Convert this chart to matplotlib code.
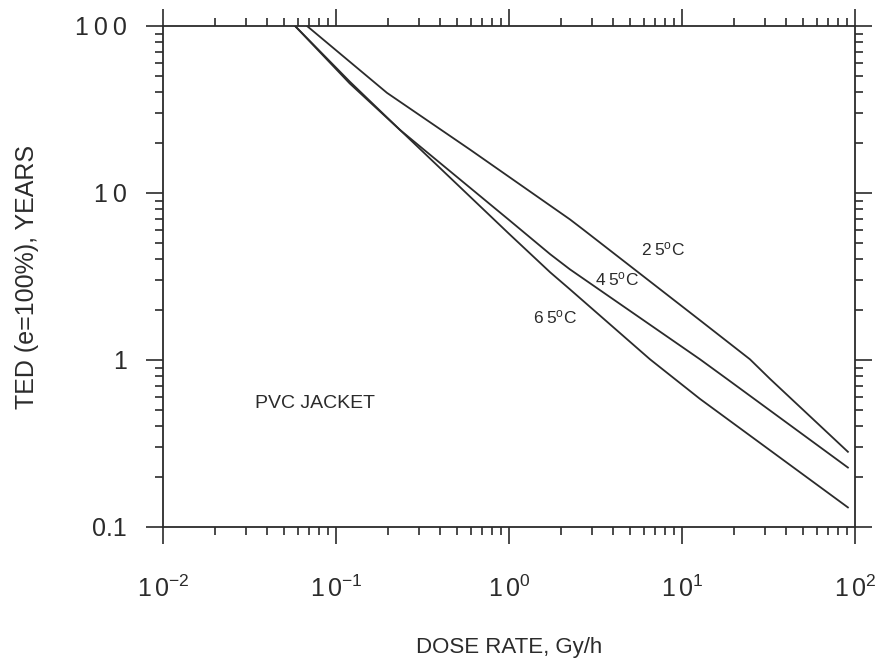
import matplotlib.pyplot as plt
from matplotlib.ticker import FixedLocator, FixedFormatter

plt.rcParams['font.family'] = ['Liberation Sans', 'DejaVu Sans']
plt.rcParams['mathtext.fontset'] = 'custom'
plt.rcParams['mathtext.rm'] = 'Liberation Sans'
plt.rcParams['mathtext.it'] = 'Liberation Sans'

# curve data (dose rate Gy/h, TED years)
dose_25 = [0.068, 0.197, 0.595, 2.25, 2.68, 12.7, 24.7, 32.3, 91.0]
ted_25 = [100, 39.8, 18.2, 6.95, 6.05, 1.73, 1.01, 0.77, 0.282]

dose_45 = [0.058, 0.12, 0.234, 1.0, 1.73, 2.25, 12.7, 18.2, 91.0]
ted_45 = [100, 46.5, 23.9, 6.9, 4.30, 3.49, 1.01, 0.77, 0.227]

dose_65 = [0.058, 0.12, 0.234, 1.0, 1.73, 2.25, 6.53, 12.7, 91.0]
ted_65 = [100, 45.3, 23.9, 5.7, 3.35, 2.65, 1.01, 0.585, 0.131]

curve_labels = ['2\u20095', '4\u20095', '6\u20095']
label_pos = [(7.8, 4.6), (4.2, 3.05), (1.84, 1.81)]

x_ticks = [1e-2, 1e-1, 1e0, 1e1, 1e2]
x_tick_labels = [r'$1\,0^{-2}$', r'$1\,0^{-1}$', r'$1\,0^{0}$', r'$1\,0^{1}$', r'$1\,0^{2}$']
y_ticks = [0.1, 1, 10, 100]
y_tick_labels = ['0.1', '1', '1\u20090', '1\u20090\u20090']

fig = plt.figure(figsize=(8.88, 6.67), dpi=100)
ax = fig.add_axes([163 / 888, 1 - 527 / 667, (855 - 163) / 888, (527 - 26) / 667])

line_color = '#2b2b2b'
for x, y in [(dose_25, ted_25), (dose_45, ted_45), (dose_65, ted_65)]:
    ax.plot(x, y, color=line_color, lw=1.3)

for name, (lx, ly) in zip(curve_labels, label_pos):
    ax.text(lx, ly, name + r'$^{\mathrm{o}}$C', fontsize=12.5, ha='center', va='center', color=line_color)

ax.text(0.034, 0.55, 'PVC JACKET', fontsize=14, ha='left', va='center', color=line_color)

ax.set_xscale('log')
ax.set_yscale('log')
ax.set_xlim(1e-2, 1e2)
ax.set_ylim(0.1, 100)
ax.xaxis.set_major_locator(FixedLocator(x_ticks))
ax.xaxis.set_major_formatter(FixedFormatter(x_tick_labels))
ax.yaxis.set_major_locator(FixedLocator(y_ticks))
ax.yaxis.set_major_formatter(FixedFormatter(y_tick_labels))

for side in ['left', 'right', 'top', 'bottom']:
    ax.spines[side].set_linewidth(1.3)
    ax.spines[side].set_color(line_color)

ax.tick_params(which='both', direction='out', top=True, right=True, color=line_color,
               width=1.2, labelsize=18, labelcolor=line_color)
ax.tick_params(which='major', length=12)
ax.tick_params(axis='x', which='major', pad=23)
ax.tick_params(axis='y', which='major', pad=14)
ax.tick_params(which='minor', length=6)

ax.set_xlabel('DOSE RATE, Gy/h', fontsize=16, labelpad=25, color=line_color)
ax.set_ylabel('TED (e=100%), YEARS', fontsize=18, labelpad=26, color=line_color)

fig.savefig('out.png', dpi=100)
